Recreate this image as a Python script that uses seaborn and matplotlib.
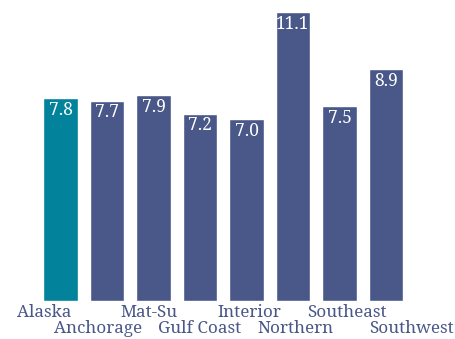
import matplotlib
matplotlib.use("Agg")
import matplotlib.pyplot as plt
import seaborn as sns
import pandas as pd

regions = ["Alaska", "Anchorage", "Mat-Su", "Gulf Coast", "Interior", "Northern", "Southeast", "Southwest"]
values = [7.8, 7.7, 7.9, 7.2, 7.0, 11.1, 7.5, 8.9]
label_shift = [-0.355, -0.2, -0.1, -0.01, 0.06, 0.05, 0.16, 0.54]
label_row = [0, 1, 0, 1, 0, 1, 0, 1]

TEAL = "#02829b"
SLATE = "#4a5889"
palette = {r: (TEAL if r == "Alaska" else SLATE) for r in regions}

sns.set_theme(style="white")
plt.rcParams["font.family"] = ["Noto Serif", "DejaVu Serif"]

df = pd.DataFrame({"region": regions, "value": values})
fig = plt.figure(figsize=(4.56, 3.39), dpi=100)
ax = fig.add_axes([0.0817, 0.1121, 0.8158, 0.8525])
sns.barplot(data=df, x="region", y="value", hue="region", palette=palette,
            width=0.75, saturation=1, legend=False, ax=ax)
ax.set_xlim(-0.5, len(regions) - 0.5)
ax.set_ylim(0, 11.1)
ax.set_xlabel("")
ax.set_ylabel("")
ax.set_xticks([])
ax.set_yticks([])
for s in ax.spines.values():
    s.set_visible(False)

for i, v in enumerate(values):
    ax.annotate(f"{v:.1f}", xy=(i, v), xytext=(0, -2), textcoords="offset points",
                ha="center", va="top", color="white", fontsize=12.5)

trans = ax.get_xaxis_transform()
for i, r in enumerate(regions):
    ax.annotate(r, xy=(i + label_shift[i], 0), xycoords=trans,
                xytext=(0, -2 - 11.8 * label_row[i]), textcoords="offset points",
                ha="center", va="top", color=SLATE, fontsize=12.3)

fig.savefig("out.png", dpi=100)
